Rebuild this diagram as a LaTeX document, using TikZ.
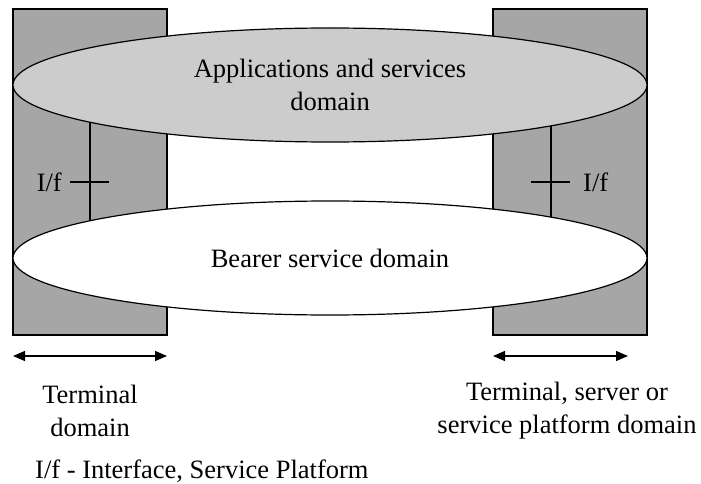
\documentclass[tikz,border=0pt]{standalone}
\usepackage{fontspec}
\setmainfont{Liberation Serif}
\usetikzlibrary{shapes.geometric,arrows.meta}
\begin{document}
\begin{tikzpicture}[x=1pt,y=-1pt,
  lw/.style={line width=1.2pt},
  domainbox/.style={lw,draw=black,fill=gray!70},
  dom/.style={ellipse,draw=black,lw,inner sep=0pt,minimum width=634pt,minimum height=114pt,align=center,font=\fontsize{26.5}{33}\selectfont},
  lbl/.style={font=\fontsize{26.5}{33}\selectfont,align=center,inner sep=0pt},
  span/.style={lw,{Triangle[length=12pt,width=10pt]}-{Triangle[length=12pt,width=10pt]}}]
\useasboundingbox (0,0) rectangle (701,484);
\fill[white] (0,0) rectangle (701,484);
% terminal domain boxes
\draw[domainbox] (13,9) rectangle (167,335);
\draw[domainbox] (493,9) rectangle (647,335);
% interface lines
\coordinate (lt) at (90,110);
\coordinate (lb) at (90,240);
\coordinate (rt) at (551,110);
\coordinate (rb) at (551,240);
\draw[lw] (lt) -- (lb);
\draw[lw] (rt) -- (rb);
\coordinate (lh1) at (70,182);
\coordinate (lh2) at (109,182);
\coordinate (rh1) at (531,182);
\coordinate (rh2) at (570,182);
\draw[lw] (lh1) -- (lh2);
\draw[lw] (rh1) -- (rh2);
% domains
\node[dom,fill=gray!40] (app) at (330,85) {Applications and services\\domain};
\node[dom,fill=white] (bearer) at (330,258) {Bearer service domain};
% I/f labels
\node[lbl,anchor=east] (ifl) at (62,182) {I/f};
\node[lbl,anchor=west] (ifr) at (583,182) {I/f};
% arrows
\coordinate (a1) at (13,356);
\coordinate (a2) at (167,356);
\coordinate (b1) at (493,356);
\coordinate (b2) at (628,356);
\draw[span] (a1) -- (a2);
\draw[span] (b1) -- (b2);
% labels
\node[lbl] (td) at (90,411) {Terminal\\domain};
\node[lbl] (sd) at (567,411) {Terminal, server or\\service platform domain};
\node[lbl,anchor=west] (legend) at (35,471) {I/f - Interface, Service Platform};
\end{tikzpicture}
\end{document}
